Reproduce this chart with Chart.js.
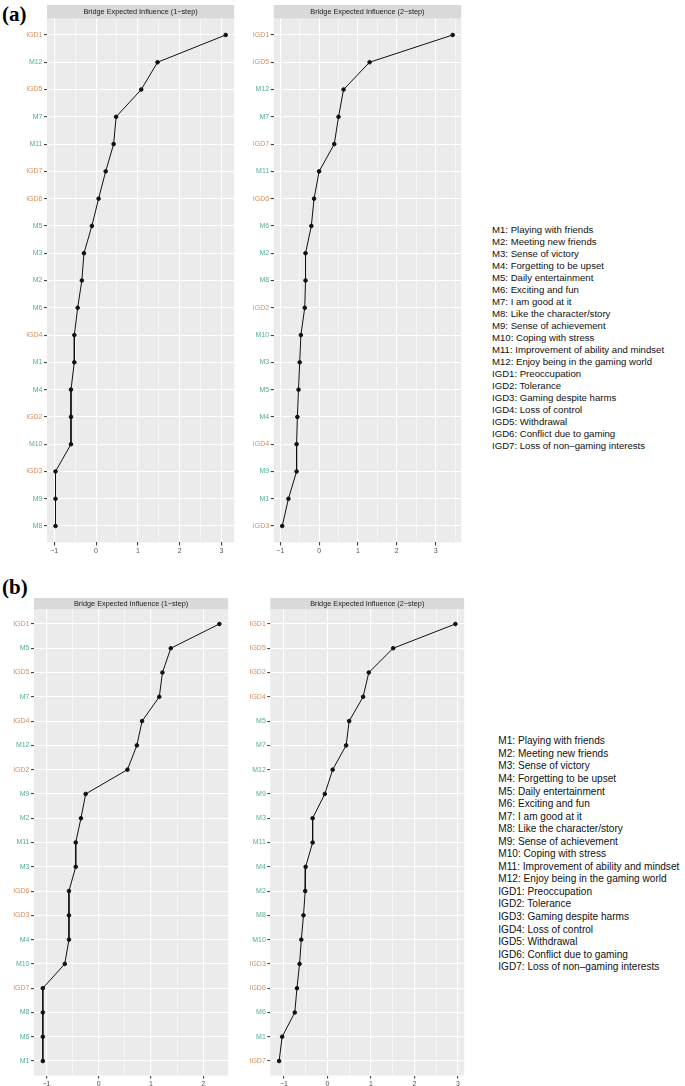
<!DOCTYPE html>
<html>
<head>
<meta charset="utf-8">
<script src="https://cdn.jsdelivr.net/npm/chart.js@4.4.1/dist/chart.umd.min.js"></script>
<style>
body { margin: 0; background: #fff; width: 685px; height: 1086px; position: relative; overflow: hidden; font-family: "Liberation Sans", Arial, sans-serif; }
canvas { position: absolute; }
.tag { position: absolute; font-family: "Liberation Serif", "Times New Roman", serif; font-weight: bold; font-size: 21px; line-height: 1; color: #000; }
.legend { position: absolute; color: #111; white-space: pre; }
</style>
</head>
<body>
<div class="tag" style="left:2px;top:4px">(a)</div>
<div class="tag" style="left:2px;top:577px">(b)</div>
<canvas id="a1"></canvas>
<canvas id="a2"></canvas>
<canvas id="b1"></canvas>
<canvas id="b2"></canvas>
<div class="legend" id="legA"></div>
<div class="legend" id="legB"></div>
<script>
'use strict';

// (a) Bridge expected influence, 1-step and 2-step
const catsA1 = ['IGD1', 'M12', 'IGD5', 'M7', 'M11', 'IGD7', 'IGD6', 'M5', 'M3', 'M2', 'M6', 'IGD4', 'M1', 'M4', 'IGD2', 'M10', 'IGD3', 'M9', 'M8'];
const valsA1 = [3.10, 1.47, 1.08, 0.48, 0.42, 0.23, 0.06, -0.10, -0.29, -0.34, -0.44, -0.52, -0.52, -0.60, -0.60, -0.60, -0.97, -0.97, -0.97];
const catsA2 = ['IGD1', 'IGD5', 'M12', 'M7', 'IGD7', 'M11', 'IGD6', 'M6', 'M2', 'M8', 'IGD2', 'M10', 'M3', 'M5', 'M4', 'IGD4', 'M9', 'M1', 'IGD3'];
const valsA2 = [3.44, 1.30, 0.63, 0.50, 0.39, 0.00, -0.13, -0.20, -0.35, -0.35, -0.37, -0.47, -0.50, -0.53, -0.56, -0.58, -0.58, -0.79, -0.95];

// (b) Bridge expected influence, 1-step and 2-step
const catsB1 = ['IGD1', 'M5', 'IGD5', 'M7', 'IGD4', 'M12', 'IGD2', 'M9', 'M2', 'M11', 'M3', 'IGD6', 'IGD3', 'M4', 'M10', 'IGD7', 'M8', 'M6', 'M1'];
const valsB1 = [2.31, 1.38, 1.22, 1.16, 0.83, 0.73, 0.55, -0.25, -0.34, -0.44, -0.44, -0.57, -0.57, -0.57, -0.65, -1.07, -1.07, -1.07, -1.07];
const catsB2 = ['IGD1', 'IGD5', 'IGD2', 'IGD4', 'M5', 'M7', 'M12', 'M9', 'M3', 'M11', 'M4', 'M2', 'M8', 'M10', 'IGD3', 'IGD6', 'M6', 'M1', 'IGD7'];
const valsB2 = [2.94, 1.51, 0.95, 0.82, 0.50, 0.43, 0.12, -0.06, -0.34, -0.34, -0.50, -0.51, -0.55, -0.60, -0.64, -0.70, -0.75, -1.04, -1.11];

const stripTexts = ['Bridge Expected Influence (1\u2212step)', 'Bridge Expected Influence (2\u2212step)'];

const legendItems = [
    'M1: Playing with friends', 'M2: Meeting new friends', 'M3: Sense of victory',
    'M4: Forgetting to be upset', 'M5: Daily entertainment', 'M6: Exciting and fun',
    'M7: I am good at it', 'M8: Like the character/story', 'M9: Sense of achievement',
    'M10: Coping with stress', 'M11: Improvement of ability and mindset',
    'M12: Enjoy being in the gaming world', 'IGD1: Preoccupation', 'IGD2: Tolerance',
    'IGD3: Gaming despite harms', 'IGD4: Loss of control', 'IGD5: Withdrawal',
    'IGD6: Conflict due to gaming', 'IGD7: Loss of non\u2013gaming interests',
];

const ORANGE = '#d68f5e';
const TEAL = '#55ad99';
const FONT = '"Liberation Sans", Arial, sans-serif';

// panel background + facet strip
const panelDeco = {
    id: 'panelDeco',
    beforeDraw(chart, args, opts) {
        const {ctx, chartArea: a} = chart;
        ctx.save();
        ctx.fillStyle = '#ebebeb';
        ctx.fillRect(a.left, a.top, a.right - a.left, a.bottom - a.top);
        ctx.fillStyle = '#d9d9d9';
        ctx.fillRect(a.left, opts.stripTop, a.right - a.left, a.top - opts.stripTop);
        ctx.fillStyle = '#1a1a1a';
        ctx.font = '7.3px ' + FONT;
        ctx.textAlign = 'center';
        ctx.textBaseline = 'middle';
        ctx.fillText(opts.text, (a.left + a.right) / 2, (opts.stripTop + a.top) / 2 + 0.5);
        ctx.restore();
    }
};

function makePanel(id, box, cats, vals, stripText, pointR) {
    const axisW = 40, axisH = 16;
    const x0 = box.left - axisW;
    const canvasLeft = Math.floor(x0);
    const padLeft = x0 - canvasLeft;
    const w = Math.ceil(box.right + 2 - canvasLeft);
    const padRight = w - (box.right - canvasLeft);
    const canvasTop = Math.floor(box.stripTop);
    const h = Math.ceil(box.bottom + axisH - canvasTop);
    const padBottom = h - (box.bottom + axisH - canvasTop);

    const cv = document.getElementById(id);
    cv.style.left = canvasLeft + 'px';
    cv.style.top = canvasTop + 'px';
    cv.width = w;
    cv.height = h;
    cv.style.width = w + 'px';
    cv.style.height = h + 'px';

    const lo = Math.min(...vals), hi = Math.max(...vals);
    const pad = (hi - lo) * 0.05;
    const isInt = v => Math.abs(v - Math.round(v)) < 1e-9;

    new Chart(cv, {
        type: 'line',
        data: {
            datasets: [{
                data: vals.map((v, i) => ({x: v, y: i})),
                borderColor: '#111',
                backgroundColor: '#111',
                borderWidth: 1,
                pointRadius: pointR,
                pointHoverRadius: pointR,
                tension: 0,
            }],
        },
        options: {
            responsive: false,
            animation: false,
            layout: {padding: {top: box.top - canvasTop, left: padLeft, right: padRight, bottom: padBottom}},
            plugins: {
                legend: {display: false},
                tooltip: {enabled: false},
                panelDeco: {text: stripText, stripTop: box.stripTop - canvasTop},
            },
            scales: {
                x: {
                    type: 'linear',
                    min: lo - pad,
                    max: hi + pad,
                    afterBuildTicks: s => {
                        const t = [];
                        for (let v = Math.ceil(s.min * 2) / 2; v <= s.max + 1e-9; v += 0.5) t.push({value: v});
                        s.ticks = t;
                    },
                    afterFit: s => { s.height = axisH; },
                    border: {display: false},
                    grid: {
                        color: '#ffffff',
                        lineWidth: c => isInt(c.tick.value) ? 1.1 : 0.5,
                        tickColor: c => isInt(c.tick.value) ? '#444' : 'rgba(0,0,0,0)',
                        tickLength: 3,
                    },
                    ticks: {
                        autoSkip: false,
                        maxRotation: 0,
                        padding: 1,
                        font: {size: 7, family: FONT},
                        color: '#555',
                        callback: v => isInt(v) ? (v < 0 ? '\u2212' + Math.abs(Math.round(v)) : String(Math.round(v))) : '',
                    },
                },
                y: {
                    type: 'linear',
                    reverse: true,
                    min: -0.6,
                    max: cats.length - 0.4,
                    afterBuildTicks: s => { s.ticks = cats.map((_, i) => ({value: i})); },
                    afterFit: s => { s.width = axisW; },
                    border: {display: false},
                    grid: {color: '#ffffff', lineWidth: 1.1, tickColor: '#444', tickLength: 3},
                    ticks: {
                        autoSkip: false,
                        padding: 1.5,
                        font: {size: 7, family: FONT},
                        color: c => cats[c.tick.value].startsWith('IGD') ? ORANGE : TEAL,
                        callback: v => cats[v],
                    },
                },
            },
        },
        plugins: [panelDeco],
    });
}

makePanel('a1', {left: 47, right: 234.6, stripTop: 5, top: 18.6, bottom: 542.4}, catsA1, valsA1, stripTexts[0], 1.8);
makePanel('a2', {left: 273.7, right: 461.7, stripTop: 5, top: 18.6, bottom: 542.4}, catsA2, valsA2, stripTexts[1], 1.8);
makePanel('b1', {left: 34, right: 229, stripTop: 598, top: 609.4, bottom: 1075.6}, catsB1, valsB1, stripTexts[0], 1.8);
makePanel('b2', {left: 270.3, right: 465, stripTop: 598, top: 609.4, bottom: 1075.6}, catsB2, valsB2, stripTexts[1], 1.8);

// legends (text keys to the right of each figure)
function fillLegend(id, left, firstCenter, lineH, fontSize) {
    const el = document.getElementById(id);
    el.style.left = left + 'px';
    el.style.top = (firstCenter - lineH / 2) + 'px';
    el.style.lineHeight = lineH + 'px';
    el.style.fontSize = fontSize + 'px';
    el.textContent = legendItems.join('\n');
}
fillLegend('legA', 492, 230, 12, 9.6);
fillLegend('legB', 498.3, 741.6, 12.54, 10.1);
</script>
</body>
</html>
